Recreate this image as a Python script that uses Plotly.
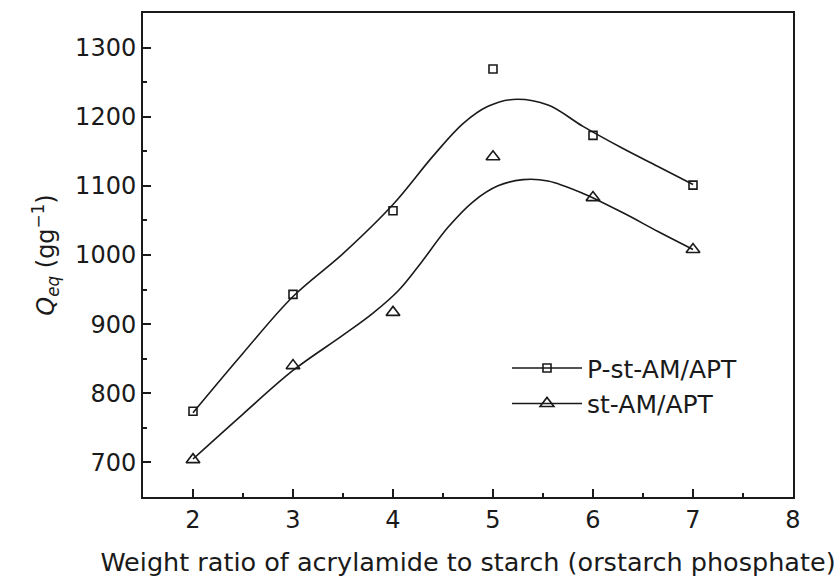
import plotly.graph_objects as go

# Measured data points
ratio = [2, 3, 4, 5, 6, 7]
p_st = [774, 943, 1064, 1269, 1173, 1101]
st = [704, 840, 917, 1142, 1083, 1008]

# Smoothed fitting curves
p_curve_x = [2, 2.5, 3, 3.5, 4, 4.4, 4.7, 4.95, 5.2, 5.55, 5.9, 6.3, 6.65, 7]
p_curve_y = [772, 858, 940, 1002, 1073, 1143, 1190, 1215, 1225, 1217, 1186, 1154, 1128, 1102]
st_curve_x = [2, 2.5, 3, 3.5, 3.8, 4.05, 4.25, 4.55, 4.8, 5.05, 5.3, 5.55, 5.9, 6.3, 6.65, 7]
st_curve_y = [705, 770, 833, 884, 916, 948, 983, 1040, 1077, 1100, 1109, 1107, 1089, 1061, 1034, 1008]

names = ["P-st-AM/APT", "st-AM/APT"]
x_ticks = [2, 3, 4, 5, 6, 7, 8]
y_ticks = [700, 800, 900, 1000, 1100, 1200, 1300]

font_family = "DejaVu Sans, Liberation Sans, Arial, sans-serif"
black = "#1a1a1a"

fig = go.Figure()
fig.add_trace(go.Scatter(x=p_curve_x, y=p_curve_y, mode="lines", line=dict(color=black, width=1.6, shape="spline", smoothing=1.0), showlegend=False, hoverinfo="skip"))
fig.add_trace(go.Scatter(x=st_curve_x, y=st_curve_y, mode="lines", line=dict(color=black, width=1.6, shape="spline", smoothing=1.0), showlegend=False, hoverinfo="skip"))
fig.add_trace(go.Scatter(x=ratio, y=p_st, mode="markers", marker=dict(symbol="square-open", size=8, color=black, line=dict(width=1.6)), showlegend=False))
fig.add_trace(go.Scatter(x=ratio, y=st, mode="markers", marker=dict(symbol="triangle-up-open", size=12, color=black, line=dict(width=1.6)), showlegend=False))
# legend entries
fig.add_trace(go.Scatter(x=[None], y=[None], mode="lines+markers", name=names[0], line=dict(color=black, width=1.6), marker=dict(symbol="square-open", size=8, color=black, line=dict(width=1.6))))
fig.add_trace(go.Scatter(x=[None], y=[None], mode="lines+markers", name=names[1], line=dict(color=black, width=1.6), marker=dict(symbol="triangle-up-open", size=12, color=black, line=dict(width=1.6))))

axis_common = dict(showline=True, linecolor=black, linewidth=2, mirror=True, ticks="inside", ticklen=8, tickwidth=2, tickcolor=black, showgrid=False, zeroline=False, automargin=False, tickfont=dict(size=24, color=black, family=font_family))

fig.update_layout(
    width=840, height=577,
    margin=dict(l=143, r=47, t=13, b=80),
    paper_bgcolor="white", plot_bgcolor="white",
    font=dict(family=font_family, color=black),
    xaxis=dict(range=[1.5, 8], tickvals=x_ticks, ticktext=[str(v) for v in x_ticks],
               minor=dict(ticks="inside", ticklen=4, tickwidth=2, tickcolor=black, dtick=0.5, tick0=1.5),
               title=dict(text="Weight ratio of acrylamide to starch (orstarch phosphate)", font=dict(size=25.5, color=black), standoff=21),
               **axis_common),
    yaxis=dict(range=[650, 1350], tickvals=y_ticks, ticktext=[str(v) for v in y_ticks],
               minor=dict(ticks="inside", ticklen=4, tickwidth=2, tickcolor=black, dtick=50, tick0=650),
               title=dict(text="<i>Q</i><sub><i>eq</i></sub> (gg<sup>−1</sup>)", font=dict(size=24, color=black), standoff=14),
               **axis_common),
    legend=dict(x=0.56, y=0.23, xanchor="left", yanchor="middle", font=dict(size=25, color=black), bgcolor="rgba(0,0,0,0)", tracegroupgap=0, itemwidth=70),
)

fig.write_html("out.html")
